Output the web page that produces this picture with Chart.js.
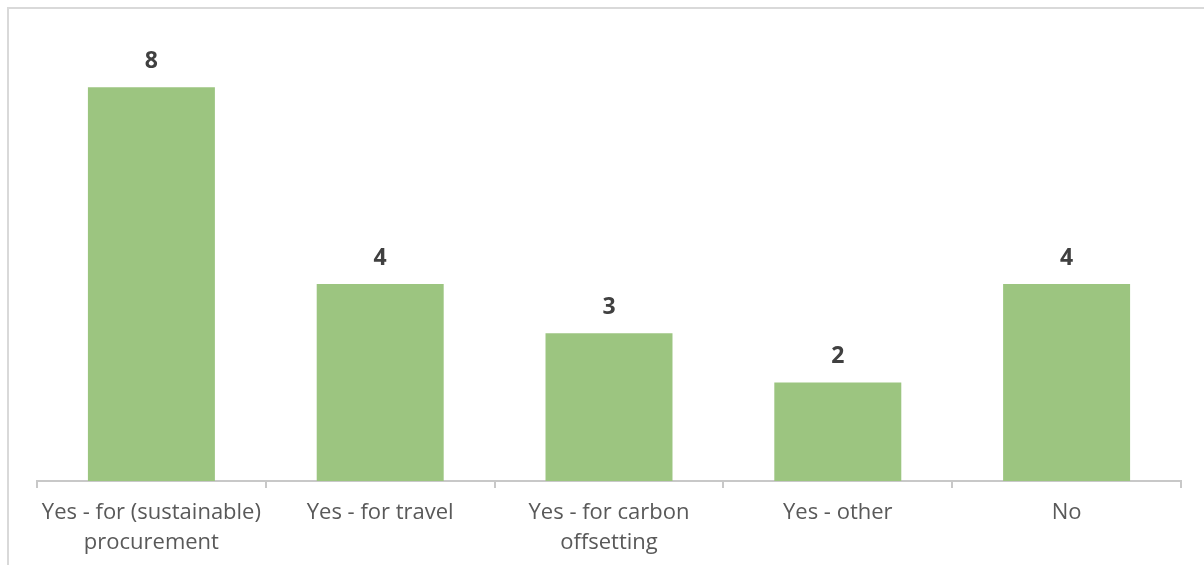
<!DOCTYPE html>
<html>
<head>
<meta charset="utf-8">
<script src="https://cdn.jsdelivr.net/npm/chart.js@4/dist/chart.umd.min.js"></script>
<style>
  html, body { margin: 0; padding: 0; background: #fff; }
  body { width: 1204px; height: 565px; position: relative; overflow: hidden; }
  #frame {
    position: absolute; left: 7px; top: 7px;
    width: 1300px; height: 700px;
    border: 2px solid #d9d9d9;
  }
  #wrap { position: absolute; left: 0; top: 0; width: 1204px; height: 565px; }
</style>
</head>
<body>
<div id="frame"></div>
<div id="wrap"><canvas id="chart"></canvas></div>
<script>
// categories and counts
const categories = [
  ["Yes - for (sustainable)", "procurement"],
  "Yes - for travel",
  ["Yes - for carbon", "offsetting"],
  "Yes - other",
  "No"
];
const counts = [8, 4, 3, 2, 4];

const barColor = "#9cc580";
const axisColor = "#c8c8c8";

// draws the count above each bar
const valueLabels = {
  id: "valueLabels",
  afterDatasetsDraw(chart) {
    const ctx = chart.ctx;
    const meta = chart.getDatasetMeta(0);
    ctx.save();
    ctx.font = "bold 23px 'Open Sans'";
    ctx.fillStyle = "#404040";
    ctx.textAlign = "center";
    ctx.textBaseline = "middle";
    meta.data.forEach((bar, i) => {
      ctx.fillText(String(counts[i]), bar.x, bar.y - 26);
    });
    ctx.restore();
  }
};

new Chart(document.getElementById("chart"), {
  type: "bar",
  data: {
    labels: categories,
    datasets: [{
      data: counts,
      backgroundColor: barColor,
      borderWidth: 0,
      categoryPercentage: 1,
      barPercentage: 0.555
    }]
  },
  options: {
    responsive: true,
    maintainAspectRatio: false,
    animation: false,
    layout: { padding: { top: 38, left: 37, right: 23, bottom: 0 } },
    plugins: {
      legend: { display: false },
      tooltip: { enabled: false }
    },
    scales: {
      y: {
        display: false,
        min: 0,
        max: 9
      },
      x: {
        afterFit(scale) { scale.height = 84; },
        grid: {
          offset: true,
          drawOnChartArea: false,
          drawTicks: true,
          tickLength: 7,
          color: axisColor,
          lineWidth: 2
        },
        border: { display: true, color: axisColor, width: 2 },
        ticks: {
          color: "#595959",
          font: { family: "'Open Sans'", size: 22, lineHeight: 1.35 },
          padding: 10,
          maxRotation: 0,
          autoSkip: false
        }
      }
    }
  },
  plugins: [valueLabels]
});
</script>
</body>
</html>
